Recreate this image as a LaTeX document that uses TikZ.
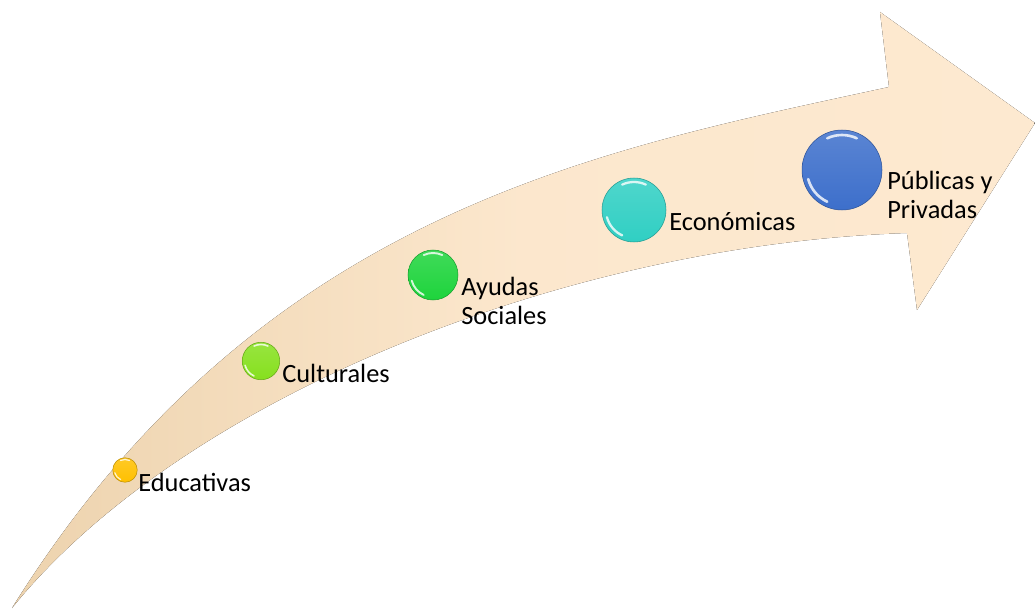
\documentclass[tikz,border=0pt]{standalone}
\usepackage{fontspec}
\setmainfont{Carlito}
\usepackage{tikz}
\definecolor{peche}{HTML}{FDE9D0}
\definecolor{pecheFonce}{HTML}{EDD3AE}
\definecolor{orEduc}{HTML}{FFC000}
\definecolor{vertCult}{HTML}{86E01E}
\definecolor{vertAide}{HTML}{1ED43C}
\definecolor{turqEco}{HTML}{30CFC3}
\definecolor{bleuPub}{HTML}{3D6FCB}
\tikzset{
Corps/.style={
 draw=none, 
 left color=pecheFonce, 
 right color=peche, 
 middle color=peche!92!pecheFonce
 },
Boule/.style={
 circle, 
 draw=#1!75!black, 
 line width=0.3pt, 
 top color=#1!85!white, 
 bottom color=#1, 
 inner sep=0pt
 },
Reflet/.style={
 draw=white, 
 opacity=0.8, 
 line cap=round
 },
Etiquette/.style={
 font=\fontsize{15}{16}\selectfont, 
 text=black, 
 inner sep=0pt
 }
}

\begin{document}
\begin{tikzpicture}[x=0.02cm,y=-0.02cm]
\useasboundingbox (0,0) rectangle (1035,611);
\fill[Corps] (12,608) .. controls (260,210) and (600,150) .. (889,87)
 -- (880,12) -- (1035,123) -- (917,310) -- (907,233)
 .. controls (560,245) and (180,400) .. (12,608) -- cycle;
\node[Boule=orEduc, minimum size=0.49cm] (educ) at (125,470) {};
\node[Boule=vertCult, minimum size=0.75cm] (cult) at (261,361) {};
\node[Boule=vertAide, minimum size=1cm] (aide) at (433,275) {};
\node[Boule=turqEco, minimum size=1.28cm] (eco) at (634,210) {};
\node[Boule=bleuPub, minimum size=1.6cm] (pub) at (842,170) {};
% reflets
\foreach \n/\r/\w in {educ/0.21/0.7, cult/0.33/0.9, aide/0.44/1.1, eco/0.56/1.3, pub/0.7/1.5}{
 \draw[Reflet, line width=\w pt] ([shift={(195:\r cm)}]\n.center) arc[start angle=195, end angle=245, radius=\r cm];
 \draw[Reflet, line width=\w pt] ([shift={(65:\r cm)}]\n.center) arc[start angle=65, end angle=115, radius=\r cm];
}
\node[Etiquette, anchor=base west] (tEduc) at (138,491) {Educativas};
\node[Etiquette, anchor=base west] (tCult) at (282,382) {Culturales};
\node[Etiquette, anchor=west, align=left] (tAide) at (461,301) {Ayudas\\Sociales};
\node[Etiquette, anchor=base west] (tEco) at (669,231) {Económicas};
\node[Etiquette, anchor=west, align=left] (tPub) at (887,195) {Públicas y\\Privadas};
\end{tikzpicture}
\end{document}
